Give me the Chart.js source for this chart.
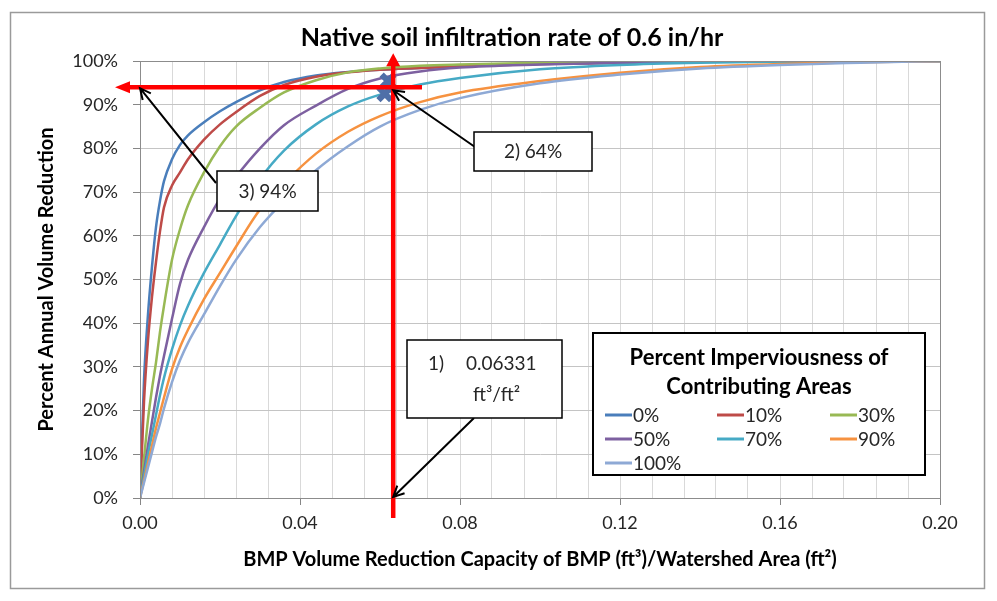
<!DOCTYPE html>
<html>
<head>
<meta charset="utf-8">
<script src="https://cdn.jsdelivr.net/npm/chart.js@4.4.1/dist/chart.umd.min.js"></script>
<style>
  html, body { margin: 0; padding: 0; background: #fff; }
  #wrap { width: 997px; height: 601px; position: relative; }
</style>
</head>
<body>
<div id="wrap"><canvas id="chart"></canvas></div>
<script>
// BMP capacity (ft3/ft2) - shared x values for every curve
const capacity = [0, 0.001, 0.002, 0.003, 0.004, 0.005, 0.006, 0.008, 0.010, 0.012, 0.016, 0.020, 0.024,
                  0.030, 0.036, 0.044, 0.052, 0.060, 0.070, 0.080, 0.100, 0.120, 0.140, 0.160, 0.180, 0.200];

// percent annual volume reduction, one list per imperviousness
const imp0   = [0, 27, 42, 53, 62, 68, 72.5, 77.5, 80.8, 83, 86, 88.5, 90.6, 93.3, 95.2, 96.7, 97.5, 98.0, 98.4, 98.8, 99.3, 99.6, 99.8, 99.9, 100, 100];
const imp10  = [0, 22, 36, 46, 54, 61, 66.5, 71.5, 74.5, 77.5, 82, 85.5, 88.3, 92, 94.5, 96.4, 97.4, 98.0, 98.4, 98.8, 99.3, 99.6, 99.8, 99.9, 100, 100];
const imp30  = [0, 9, 18, 25, 31, 38, 44, 54.5, 61.5, 67, 74.5, 80.5, 85, 89.3, 92.8, 95.6, 97.4, 98.3, 98.9, 99.2, 99.6, 99.8, 99.9, 100, 100, 100];
const imp50  = [0, 6, 12, 17.5, 23, 28, 32.5, 41, 49, 54.5, 62, 68.5, 73.5, 80, 85.3, 89.8, 93.6, 96, 97.6, 98.5, 99.2, 99.6, 99.8, 99.95, 100, 100];
const imp70  = [0, 5, 10, 14.5, 19, 23.5, 27.5, 34, 39.5, 44, 51.5, 58, 64.5, 73, 79.5, 85.5, 89.6, 92.3, 94.6, 96.1, 98.1, 99.1, 99.6, 99.85, 100, 100];
const imp90  = [0, 4, 8, 12, 16, 19.5, 23, 29.5, 34.5, 38.5, 45.5, 51.5, 57.5, 66, 72, 78.8, 83.8, 87.4, 90.6, 92.8, 95.4, 97.3, 98.6, 99.3, 99.7, 100];
const imp100 = [0, 3.5, 7, 10.5, 14, 17, 20.5, 26.5, 31.5, 35.5, 42, 48.5, 54.5, 62, 68, 75, 80.5, 85, 88.8, 91.5, 94.9, 96.9, 98.3, 99.1, 99.6, 100];

const seriesValues = [imp0, imp10, imp30, imp50, imp70, imp90, imp100];
const seriesLabels = ['0%', '10%', '30%', '50%', '70%', '90%', '100%'];
const seriesColors = ['#4A7EBB', '#BE4B48', '#98B954', '#7D60A0', '#46AAC5', '#F69240', '#8EA9D5'];

// axis ticks
const xMajorTicks = [0, 0.04, 0.08, 0.12, 0.16, 0.20];
const xTickLabels = ['0.00', '0.04', '0.08', '0.12', '0.16', '0.20'];

// the worked example
const markerX = [0.0620, 0.0612];
const markerY = [95.4, 92.5];
const pickX = 0.0633;   // 1) 0.06331 ft3/ft2
const pickY = 94;       // 3) 94%

const FONT = 'Lato, "Open Sans", sans-serif';
const INK = '#262626';

const datasets = seriesValues.map((vals, i) => ({
    label: seriesLabels[i],
    data: capacity.map((x, j) => ({ x: x, y: vals[j] })),
    borderColor: seriesColors[i],
    backgroundColor: seriesColors[i],
    borderWidth: 2.5,
    pointRadius: 0,
    showLine: true,
    cubicInterpolationMode: 'monotone',
    order: seriesLabels.length - i
}));

datasets.push({
    label: 'marker',
    data: markerX.map((x, i) => ({ x: x, y: markerY[i] })),
    showLine: false,
    pointStyle: 'crossRot',
    pointRadius: 9,
    borderWidth: 6,
    borderColor: '#4F6FA8',
    backgroundColor: '#4F6FA8',
    order: -1
});

function arrow(ctx, x1, y1, x2, y2) {
    const a = Math.atan2(y2 - y1, x2 - x1);
    ctx.beginPath();
    ctx.moveTo(x1, y1);
    ctx.lineTo(x2, y2);
    ctx.moveTo(x2 - 12 * Math.cos(a - 0.45), y2 - 12 * Math.sin(a - 0.45));
    ctx.lineTo(x2, y2);
    ctx.lineTo(x2 - 12 * Math.cos(a + 0.45), y2 - 12 * Math.sin(a + 0.45));
    ctx.stroke();
}

function box(ctx, x, y, w, h) {
    ctx.fillStyle = '#fff';
    ctx.fillRect(x, y, w, h);
    ctx.strokeStyle = '#000';
    ctx.lineWidth = 1.5;
    ctx.strokeRect(x, y, w, h);
}

const decorations = {
    id: 'decorations',
    beforeDraw(chart) {
        const ctx = chart.ctx;
        ctx.save();
        ctx.fillStyle = '#fff';
        ctx.fillRect(0, 0, chart.width, chart.height);
        ctx.strokeStyle = '#9a9a9a';
        ctx.lineWidth = 1.5;
        ctx.strokeRect(10.5, 12.5, 974, 576);
        ctx.restore();
    },
    afterDatasetsDraw(chart) {
        const ctx = chart.ctx;
        const xs = chart.scales.x, ys = chart.scales.y;
        const a = chart.chartArea;
        ctx.save();
        // plot area frame
        ctx.strokeStyle = '#8c8c8c';
        ctx.lineWidth = 1;
        ctx.strokeRect(a.left + 0.5, a.top + 0.5, a.right - a.left, a.bottom - a.top);

        // red read-off lines
        const px = xs.getPixelForValue(pickX);
        const py = ys.getPixelForValue(pickY);
        ctx.strokeStyle = '#FF0000';
        ctx.fillStyle = '#FF0000';
        ctx.lineWidth = 4.5;
        ctx.beginPath();
        ctx.moveTo(px, ys.getPixelForValue(-4.6));
        ctx.lineTo(px, ys.getPixelForValue(100.5));
        ctx.moveTo(xs.getPixelForValue(0.0705), py);
        ctx.lineTo(xs.getPixelForValue(-0.0025), py);
        ctx.stroke();
        const tipY = ys.getPixelForValue(101.8);
        ctx.beginPath();
        ctx.moveTo(px, tipY);
        ctx.lineTo(px - 7, tipY + 13);
        ctx.lineTo(px + 7, tipY + 13);
        ctx.closePath();
        ctx.fill();
        const tipX = xs.getPixelForValue(-0.00625);
        ctx.beginPath();
        ctx.moveTo(tipX, py);
        ctx.lineTo(tipX + 15, py - 6);
        ctx.lineTo(tipX + 15, py + 6);
        ctx.closePath();
        ctx.fill();

        // call-out arrows
        ctx.strokeStyle = '#000';
        ctx.lineWidth = 2;
        arrow(ctx, 216, 183, xs.getPixelForValue(0), py + 1);
        arrow(ctx, 475, 147, px, py + 3);
        arrow(ctx, 474, 418, px, ys.getPixelForValue(0) - 1);

        // call-out boxes
        ctx.font = '19px ' + FONT;
        ctx.textBaseline = 'middle';
        box(ctx, 217, 171, 101, 40);
        ctx.fillStyle = INK;
        ctx.textAlign = 'center';
        ctx.fillText('3) 94%', 267.5, 191.5);
        box(ctx, 474, 132, 118, 39);
        ctx.fillStyle = INK;
        ctx.fillText('2) 64%', 533, 152);
        box(ctx, 407, 340, 155, 78);
        ctx.fillStyle = INK;
        ctx.textAlign = 'left';
        ctx.fillText('1)', 428, 364);
        ctx.fillText('0.06331', 466, 364);
        ctx.fillText('ft\u00B3/ft\u00B2', 473, 395);
        ctx.restore();
    },
    afterDraw(chart) {
        const ctx = chart.ctx;
        ctx.save();
        // chart title
        ctx.fillStyle = '#000';
        ctx.font = 'bold 25px ' + FONT;
        ctx.textAlign = 'center';
        ctx.textBaseline = 'middle';
        ctx.fillText('Native soil infiltration rate of 0.6 in/hr', 512, 38);

        // legend box
        ctx.fillStyle = '#fff';
        ctx.fillRect(593, 333, 332, 142);
        ctx.strokeStyle = '#000';
        ctx.lineWidth = 2;
        ctx.strokeRect(593, 333, 332, 142);
        ctx.fillStyle = '#000';
        ctx.font = 'bold 22px ' + FONT;
        ctx.fillText('Percent Imperviousness of', 759, 358);
        ctx.fillText('Contributing Areas', 759, 387);

        ctx.font = '19px ' + FONT;
        ctx.textAlign = 'left';
        const cols = [605, 717, 830];
        const rows = [415, 439, 463];
        chart.data.datasets.slice(0, seriesLabels.length).forEach((ds, i) => {
            const x = cols[i % 3], y = rows[Math.floor(i / 3)];
            ctx.strokeStyle = ds.borderColor;
            ctx.lineWidth = 3;
            ctx.beginPath();
            ctx.moveTo(x, y);
            ctx.lineTo(x + 27, y);
            ctx.stroke();
            ctx.fillStyle = INK;
            ctx.fillText(ds.label, x + 28, y + 1);
        });
        ctx.restore();
    }
};

new Chart(document.getElementById('chart'), {
    type: 'scatter',
    data: { datasets: datasets },
    plugins: [decorations],
    options: {
        responsive: true,
        maintainAspectRatio: false,
        animation: false,
        devicePixelRatio: 1,
        layout: { padding: { top: 61, right: 57, bottom: 25, left: 31 } },
        plugins: {
            legend: { display: false },
            tooltip: { enabled: false }
        },
        scales: {
            x: {
                type: 'linear',
                min: 0,
                max: 0.2,
                afterFit: (s) => { s.height = 78; },
                ticks: {
                    stepSize: 0.008,
                    autoSkip: false,
                    maxRotation: 0,
                    padding: 7,
                    color: INK,
                    font: { family: FONT, size: 18 },
                    callback: (v) => {
                        const i = xMajorTicks.findIndex(m => Math.abs(m - v) < 1e-6);
                        return i >= 0 ? xTickLabels[i] : '';
                    }
                },
                grid: {
                    color: '#d9d9d9',
                    tickLength: 7,
                    tickColor: (c) => (c.tick && xMajorTicks.some(m => Math.abs(m - c.tick.value) < 1e-6)) ? '#868686' : 'rgba(0,0,0,0)'
                },
                border: { color: '#868686', width: 1 },
                title: {
                    display: true,
                    text: 'BMP Volume Reduction Capacity of BMP (ft\u00B3)/Watershed Area (ft\u00B2)',
                    color: '#000',
                    font: { family: FONT, size: 20, weight: 'bold' }
                }
            },
            y: {
                min: 0,
                max: 100,
                afterFit: (s) => { s.width = 109; },
                ticks: {
                    stepSize: 10,
                    padding: 15,
                    color: INK,
                    font: { family: FONT, size: 18 },
                    callback: (v) => v + '%'
                },
                grid: { color: '#c4c4c4', tickLength: 7, tickColor: '#868686' },
                border: { color: '#868686', width: 1 },
                title: {
                    display: true,
                    text: 'Percent Annual Volume Reduction',
                    color: '#000',
                    font: { family: FONT, size: 20, weight: 'bold' }
                }
            }
        }
    }
});
</script>
</body>
</html>
